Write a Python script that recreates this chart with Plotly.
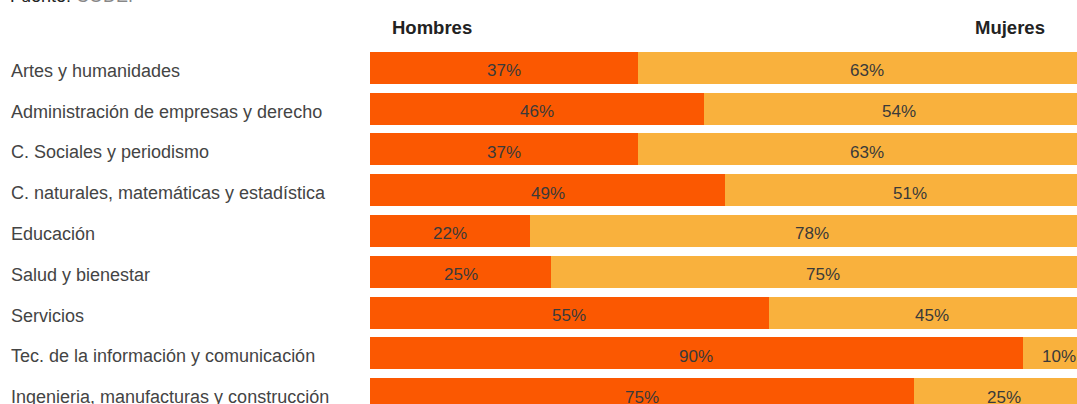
import plotly.graph_objects as go

# Share of graduates by field, men vs women (%)
areas = [
    "Artes y humanidades",
    "Administración de empresas y derecho",
    "C. Sociales y periodismo",
    "C. naturales, matemáticas y estadística",
    "Educación",
    "Salud y bienestar",
    "Servicios",
    "Tec. de la información y comunicación",
    "Ingenieria, manufacturas y construcción",
]
hombres = [37, 46, 37, 49, 22, 25, 55, 90, 75]
mujeres = [63, 54, 63, 51, 78, 75, 45, 10, 25]

W, H = 1077, 404
LEFT = 370          # left edge of the bars (px)
FULL = 725          # pixel length of a 100% bar
ROW = 40.8          # row pitch (px)
FIRST = 67.7        # centre of first row (px)

ORANGE = "#FB5801"
YELLOW = "#F9B13D"
TXT = "#444444"
FONT = "Liberation Sans, Arial, sans-serif"

fig = go.Figure()
fig.add_trace(go.Bar(y=areas, x=hombres, orientation="h", marker=dict(color=ORANGE, line=dict(width=0)),
                     name="Hombres", hoverinfo="skip"))
fig.add_trace(go.Bar(y=areas, x=mujeres, orientation="h", marker=dict(color=YELLOW, line=dict(width=0)),
                     name="Mujeres", hoverinfo="skip"))


def ypaper(px):
    return 1 - px / H


def xpaper(px):
    return (px - LEFT) / (W - LEFT)


ann = []
for a, h, m in zip(areas, hombres, mujeres):
    ann.append(dict(x=h / 2, y=a, xref="x", yref="y", text=f"{h}%", showarrow=False,
                    font=dict(family=FONT, size=17, color="#3a3a3a"), yshift=-3))
    ann.append(dict(x=h + m / 2, y=a, xref="x", yref="y", text=f"{m}%", showarrow=False,
                    font=dict(family=FONT, size=17, color="#3a3a3a"), yshift=-3))
    ann.append(dict(x=xpaper(9), y=a, xref="paper", yref="y", text=a,
                    xanchor="left", showarrow=False,
                    font=dict(family=FONT, size=18, color=TXT), yshift=-3))

ann.append(dict(x=xpaper(390), y=ypaper(27), xref="paper", yref="paper", text="<b>Hombres</b>",
                xanchor="left", yanchor="middle", showarrow=False,
                font=dict(family=FONT, size=18.5, color="#222222")))
ann.append(dict(x=xpaper(1047), y=ypaper(27), xref="paper", yref="paper", text="<b>Mujeres</b>",
                xanchor="right", yanchor="middle", showarrow=False,
                font=dict(family=FONT, size=18.5, color="#222222")))
ann.append(dict(x=xpaper(8), y=ypaper(-4), xref="paper", yref="paper",
                text="Fuente: <span style='color:#888888'>CODEI</span>",
                xanchor="left", yanchor="middle", showarrow=False,
                font=dict(family=FONT, size=18, color="#222222")))

r0 = -FIRST / ROW
r1 = r0 + H / ROW

fig.update_layout(
    width=W, height=H,
    margin=dict(l=LEFT, r=0, t=0, b=0),
    barmode="stack",
    bargap=1 - 32 / ROW,
    showlegend=False,
    plot_bgcolor="white", paper_bgcolor="white",
    xaxis=dict(range=[0, (W - LEFT) / FULL * 100], visible=False, fixedrange=True),
    yaxis=dict(range=[r1, r0], visible=False, fixedrange=True,
               categoryorder="array", categoryarray=areas),
    annotations=ann,
)

fig.write_html("out.html", config={"displayModeBar": False})
